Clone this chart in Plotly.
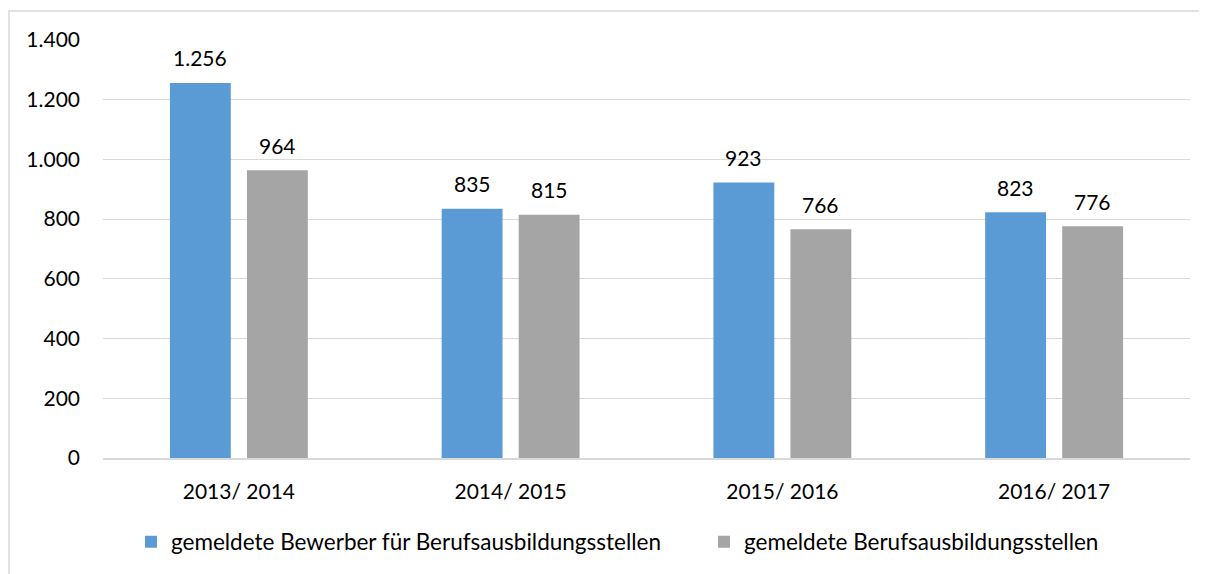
import plotly.graph_objects as go

categories = ["2013/ 2014", "2014/ 2015", "2015/ 2016", "2016/ 2017"]
bewerber = [1256, 835, 923, 823]
stellen = [964, 815, 766, 776]
series_names = ["gemeldete Bewerber für Berufsausbildungsstellen", "gemeldete Berufsausbildungsstellen"]
y_ticks = [0, 200, 400, 600, 800, 1000, 1200, 1400]

FONT = "Lato"
FS = 21
OFF = 8  # page body margin
W, H = 1207 - OFF, 574 - OFF
L, T = 103 - OFF, 40 - OFF
R = W - (1190 - OFF)
B = H - (459 - OFF)
pw, ph = W - L - R, H - T - B


def px_x(p):
    return (p - OFF - L) / pw


def px_y(p):
    return (H - B - (p - OFF)) / ph


fig = go.Figure()
colors = ["#5B9BD5", "#A5A5A5"]
legend_ids = ["legend", "legend2"]
for vals, name, col, lg in zip([bewerber, stellen], series_names, colors, legend_ids):
    fig.add_trace(go.Bar(x=categories, y=vals, name=name, legend=lg,
                         marker=dict(color=col, line=dict(width=0)),
                         hoverinfo="x+y"))

annotations = []
for vals, shift in zip([bewerber, stellen], [-38.5, 38.5]):
    for c, v in zip(categories, vals):
        annotations.append(dict(x=c, y=v, xref="x", yref="y", text=f"{v:,d}".replace(",", "."),
                                showarrow=False, xshift=shift, yshift=25, yanchor="middle",
                                font=dict(family=FONT, size=FS, color="#000000")))

legend_common = dict(orientation="h", xanchor="left", yanchor="middle", y=px_y(542),
                     font=dict(family=FONT, size=22.5, color="#000000"), itemwidth=30,
                     bgcolor="rgba(0,0,0,0)")

fig.update_layout(
    width=W, height=H,
    margin=dict(l=L, r=R, t=T, b=B),
    paper_bgcolor="white", plot_bgcolor="white",
    separators=",.",
    barmode="group", bargap=0.433, bargroupgap=0.21,
    font=dict(family=FONT, size=FS, color="#000000"),
    showlegend=True,
    legend=dict(x=px_x(131), **legend_common),
    legend2=dict(x=px_x(704), **legend_common),
    xaxis=dict(showgrid=False, showline=True, linecolor="#D9D9D9", linewidth=1.5,
               ticks="", ticklabelstandoff=14, tickfont=dict(family=FONT, size=FS)),
    yaxis=dict(range=[0, 1400], tickvals=y_ticks, tickformat=",d",
               showgrid=True, gridcolor="#D9D9D9", gridwidth=1, zeroline=False,
               showline=False, ticks="", ticklabelstandoff=22,
               tickfont=dict(family=FONT, size=FS)),
    annotations=annotations,
    shapes=[dict(type="rect", xref="paper", yref="paper",
                 x0=px_x(9), x1=px_x(1400), y0=px_y(700), y1=px_y(11),
                 line=dict(color="#D9D9D9", width=1.5), fillcolor="rgba(0,0,0,0)", layer="below")],
)

fig.write_html("out.html")
